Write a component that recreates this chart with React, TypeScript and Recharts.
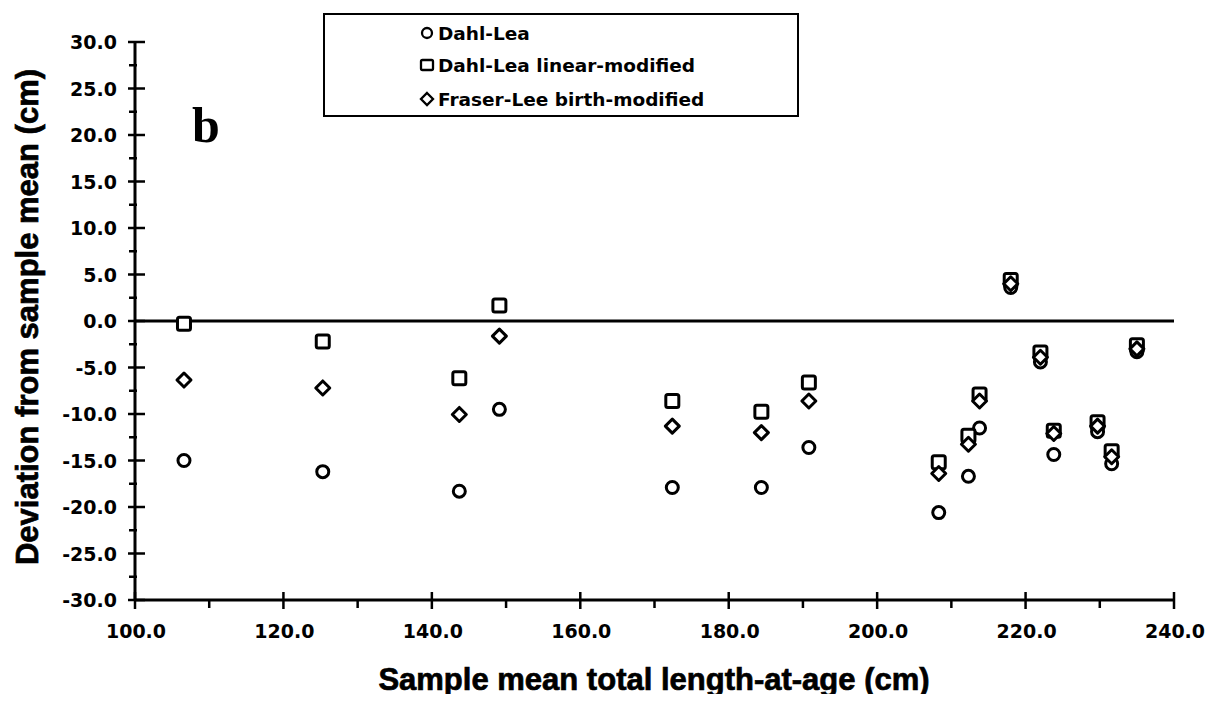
import React from 'react';
import { ScatterChart, Scatter, XAxis, YAxis, ReferenceLine, Legend, Label } from 'recharts';

// ---- data ----
const sampleMeanLength = [106.6, 125.3, 143.7, 149.1, 172.4, 184.4, 190.8, 208.3, 212.3, 213.8, 218.0, 222.0, 223.8, 229.7, 231.6, 235.0];
const dahlLea = [-15.0, -16.2, -18.3, -9.5, -17.9, -17.9, -13.6, -20.6, -16.7, -11.5, 3.6, -4.4, -14.35, -11.9, -15.35, -3.3];
const dahlLeaLinear = [-0.3, -2.2, -6.15, 1.67, -8.6, -9.75, -6.6, -15.2, -12.35, -7.9, 4.4, -3.4, -11.8, -10.9, -14.0, -2.6];
const fraserLeeBirth = [-6.35, -7.2, -10.05, -1.63, -11.3, -12.0, -8.6, -16.4, -13.25, -8.6, 4.0, -3.9, -12.1, -11.3, -14.6, -3.0];

const seriesNames = ['Dahl-Lea', 'Dahl-Lea linear-modified', 'Fraser-Lee birth-modified'];
const xTicks = [100, 110, 120, 130, 140, 150, 160, 170, 180, 190, 200, 210, 220, 230, 240];
const yTicks = [-30, -27.5, -25, -22.5, -20, -17.5, -15, -12.5, -10, -7.5, -5, -2.5, 0, 2.5, 5, 7.5, 10, 12.5, 15, 17.5, 20, 22.5, 25, 27.5, 30];
const xTitle = 'Sample mean total length-at-age (cm)';
const yTitle = 'Deviation from sample mean (cm)';
const panelLetter = 'b';

const toPoints = (ys: number[]) => sampleMeanLength.map((x, i) => ({ x, y: ys[i] }));
const dahlLeaData = toPoints(dahlLea);
const dahlLeaLinearData = toPoints(dahlLeaLinear);
const fraserLeeData = toPoints(fraserLeeBirth);

const TICK_FONT = '"DejaVu Sans", sans-serif';
const TITLE_FONT = '"Liberation Sans", Arial, sans-serif';

const CircleShape = (p: any) => (
  <circle cx={p.cx} cy={p.cy} r={6} fill="#fff" stroke="#000" strokeWidth={3} />
);
const SquareShape = (p: any) => (
  <rect x={p.cx - 6.5} y={p.cy - 6.5} width={13} height={13} rx={2} fill="#fff" stroke="#000" strokeWidth={3} />
);
const DiamondShape = (p: any) => (
  <path
    d={`M${p.cx},${p.cy - 7} L${p.cx + 7},${p.cy} L${p.cx},${p.cy + 7} L${p.cx - 7},${p.cy} Z`}
    fill="#fff"
    stroke="#000"
    strokeWidth={3}
    strokeLinejoin="round"
  />
);

const YTick = (props: any) => {
  const { x, y, payload } = props;
  const v = payload.value as number;
  const major = Math.abs(v % 5) < 1e-6;
  return (
    <g>
      {major ? (
        <line x1={x - 7} x2={x + 10} y1={y} y2={y} stroke="#000" strokeWidth={2.5} />
      ) : (
        <line x1={x - 6} x2={x + 2} y1={y} y2={y} stroke="#000" strokeWidth={2.5} />
      )}
      {major && (
        <text x={x - 18} y={y} textAnchor="end" dominantBaseline="central" fontFamily={TICK_FONT} fontWeight={700} fontSize={19} fill="#000">
          {v.toFixed(1)}
        </text>
      )}
    </g>
  );
};

const XTick = (props: any) => {
  const { x, y, payload } = props;
  const v = payload.value as number;
  const major = v % 20 === 0;
  return (
    <g>
      {major ? (
        <line x1={x} x2={x} y1={y - 8} y2={y + 9} stroke="#000" strokeWidth={2.5} />
      ) : (
        <line x1={x} x2={x} y1={y} y2={y + 8} stroke="#000" strokeWidth={2.5} />
      )}
      {major && (
        <text x={x + 1} y={y + 31} textAnchor="middle" dominantBaseline="central" fontFamily={TICK_FONT} fontWeight={700} fontSize={19} fill="#000">
          {v.toFixed(1)}
        </text>
      )}
    </g>
  );
};

const YTitle = (props: any) => {
  const cx = 30;
  const cy = 309;
  return (
    <g>
      <text
        x={cx}
        y={cy}
        transform={`rotate(-90, ${cx}, ${cy})`}
        textAnchor="middle"
        fontFamily={TITLE_FONT}
        fontWeight={700}
        fontSize={31}
        fill="#000"
        stroke="#000"
        strokeWidth={0.7}
      >
        {yTitle}
      </text>
      <text x={184} y={134} fontFamily='"Liberation Serif", "Times New Roman", serif' fontWeight={700} fontSize={50} fill="#000">
        {panelLetter}
      </text>
    </g>
  );
};

const XTitle = () => (
  <text x={646} y={682} textAnchor="middle" fontFamily={TITLE_FONT} fontWeight={700} fontSize={31} fill="#000" stroke="#000" strokeWidth={0.7}>
    {xTitle}
  </text>
);

const LegendBox = () => {
  const rows = [20, 52, 86];
  const mx = 104;
  return (
    <svg width={476} height={104} style={{ display: 'block' }}>
      <rect x={1} y={1} width={474} height={102} fill="#fff" stroke="#000" strokeWidth={2} />
      <circle cx={mx} cy={rows[0]} r={5} fill="#fff" stroke="#000" strokeWidth={2.3} />
      <rect x={mx - 6} y={rows[1] - 5} width={12} height={10} rx={1.5} fill="#fff" stroke="#000" strokeWidth={2.3} />
      <path d={`M${mx},${rows[2] - 6} L${mx + 6},${rows[2]} L${mx},${rows[2] + 6} L${mx - 6},${rows[2]} Z`} fill="#fff" stroke="#000" strokeWidth={2.3} />
      {seriesNames.map((n, i) => (
        <text key={n} x={115} y={rows[i]} dominantBaseline="central" fontFamily={TICK_FONT} fontWeight={700} fontSize={18.5} fill="#000">
          {n}
        </text>
      ))}
    </svg>
  );
};

export default function App() {
  return (
    <div style={{ width: 1204, height: 694, marginBottom: -8, position: 'relative' }}>
      <ScatterChart width={1204} height={694} margin={{ top: 34, right: 38, left: 0, bottom: 0 }}>
        <XAxis
          type="number"
          dataKey="x"
          domain={[100, 240]}
          ticks={xTicks}
          interval={0}
          tickSize={0}
          tickMargin={0}
          tickLine={false}
          tick={<XTick />}
          height={102}
          axisLine={{ stroke: '#000', strokeWidth: 3 }}
          allowDataOverflow
        >
          <Label content={<XTitle />} />
        </XAxis>
        <YAxis
          type="number"
          dataKey="y"
          domain={[-30, 30]}
          ticks={yTicks}
          interval={0}
          tickSize={0}
          tickMargin={0}
          tickLine={false}
          tick={<YTick />}
          width={127}
          axisLine={{ stroke: '#000', strokeWidth: 3 }}
          allowDataOverflow
        >
          <Label content={<YTitle />} />
        </YAxis>
        <ReferenceLine y={0} stroke="#000" strokeWidth={3} />
        <Scatter name={seriesNames[0]} data={dahlLeaData} shape={CircleShape} isAnimationActive={false} />
        <Scatter name={seriesNames[1]} data={dahlLeaLinearData} shape={SquareShape} isAnimationActive={false} />
        <Scatter name={seriesNames[2]} data={fraserLeeData} shape={DiamondShape} isAnimationActive={false} />
        <Legend
          layout="horizontal"
          verticalAlign="middle"
          align="center"
          content={<LegendBox />}
          wrapperStyle={{ position: 'absolute', left: 315, top: 5, width: 476, height: 104, margin: 0 }}
        />
      </ScatterChart>
    </div>
  );
}
